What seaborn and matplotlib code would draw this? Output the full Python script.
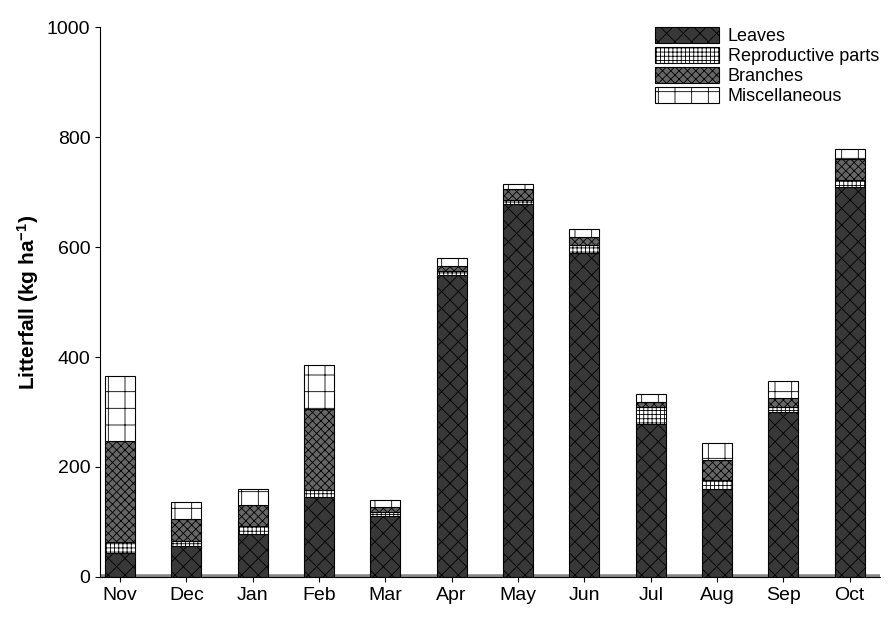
import matplotlib
matplotlib.use("Agg")
import matplotlib.pyplot as plt
import seaborn as sns
import pandas as pd
import numpy as np

months = ["Nov","Dec","Jan","Feb","Mar","Apr","May","Jun","Jul","Aug","Sep","Oct"]
leaves = [44, 56, 78, 145, 110, 549, 678, 590, 278, 160, 300, 710]
repro = [20, 9, 15, 14, 8, 8, 7, 13, 32, 16, 10, 12]
branches = [184, 40, 38, 147, 9, 9, 21, 16, 8, 36, 15, 38]
misc = [118, 31, 29, 79, 13, 14, 9, 14, 15, 32, 32, 18]

sns.set_style("ticks")
plt.rcParams['font.family'] = ['Liberation Sans', 'DejaVu Sans']
plt.rcParams['mathtext.fontset'] = 'custom'
plt.rcParams['mathtext.bf'] = 'Liberation Sans:bold'
plt.rcParams['hatch.linewidth'] = 0.6
for k in ['text.color', 'axes.labelcolor', 'xtick.color', 'ytick.color', 'axes.edgecolor']:
    plt.rcParams[k] = 'black'
fig, ax = plt.subplots(figsize=(8.93, 6.19), dpi=100)
fig.subplots_adjust(left=0.112, right=0.985, top=0.956, bottom=0.068)

df = pd.DataFrame({"month": months, "Leaves": leaves, "Reproductive parts": repro,
                   "Branches": branches, "Miscellaneous": misc})
styles = {"Leaves": ("#383838", "xx"), "Reproductive parts": ("white", "++++"),
          "Branches": ("#666666", "xxxx"), "Miscellaneous": ("white", "-|")}
bottom = np.zeros(len(months))
for name in ["Leaves", "Reproductive parts", "Branches", "Miscellaneous"]:
    fc, h = styles[name]
    sns.barplot(data=df, x="month", y=name, bottom=bottom, color=fc, ax=ax,
                width=0.45, edgecolor="black", linewidth=0.8, hatch=h, label=name,
                saturation=1)
    bottom = bottom + df[name].values

ax.set_ylim(0, 1000)
ax.set_xlim(-0.3, 11.45)
ax.set_yticks(range(0, 1001, 200))
ax.axhline(0, color="#888888", lw=4, zorder=0.5)
ax.axhline(0, color="black", lw=0.6, zorder=0.6)
ax.set_xlabel("")
ax.set_ylabel(r"Litterfall (kg ha$\mathbf{^{-1}}$)", fontsize=15, fontweight="bold")
ax.tick_params(labelsize=14)
sns.despine(ax=ax, top=True, right=True, bottom=False)
ax.legend(loc="upper right", frameon=False, fontsize=13, handlelength=3.5,
          handleheight=1.0, labelspacing=0.1, handletextpad=0.5,
          bbox_to_anchor=(1.02, 1.03))
fig.savefig("out.png")
